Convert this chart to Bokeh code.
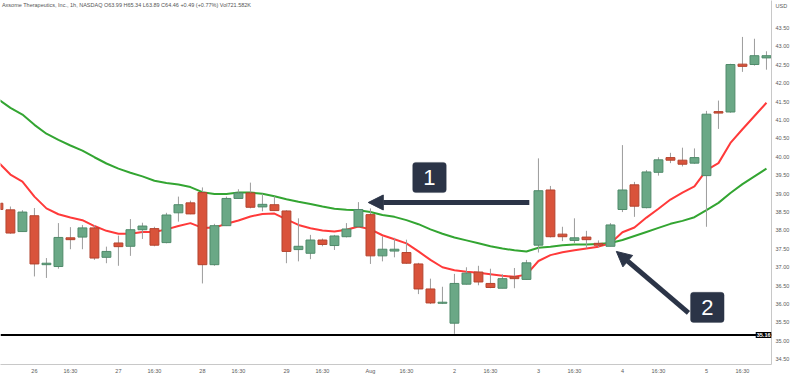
from bokeh.plotting import figure
from bokeh.models import (ColumnDataSource, FixedTicker, Span, Label, Arrow,
                          NormalHead, BoxAnnotation, Range1d, NumeralTickFormatter)
from bokeh.embed import file_html
from bokeh.resources import INLINE

# ---------------- data ----------------
opens = [38.74, 38.56, 37.97, 38.40, 37.07, 37.02, 37.80, 37.82, 38.07, 37.27,
         37.66, 37.57, 38.02, 38.05, 37.67, 38.48, 38.75, 39.03, 37.07, 38.13,
         38.87, 39.02, 38.64, 38.70, 38.53, 37.48, 37.38, 37.74, 37.59, 37.83,
         38.10, 38.43, 37.31, 37.44, 37.40, 37.09, 36.41, 36.02, 35.48, 36.54,
         36.87, 36.56, 36.43, 36.74, 36.67, 37.60, 39.10, 37.90, 37.73, 37.82,
         37.65, 37.57, 38.57, 39.24, 38.62, 39.58, 39.98, 39.91, 39.83, 39.49,
         41.23, 41.22, 42.52, 42.51, 42.69]
highs = [38.80, 38.65, 38.55, 38.61, 37.25, 38.20, 38.09, 38.15, 38.15, 37.56,
         37.86, 38.31, 38.21, 38.10, 38.48, 38.92, 38.81, 39.17, 38.18, 38.92,
         39.12, 39.30, 39.00, 38.93, 38.55, 38.33, 37.88, 37.78, 37.88, 38.20,
         38.77, 38.60, 37.84, 37.80, 37.75, 37.12, 36.69, 36.47, 36.82, 37.00,
         37.04, 36.96, 36.81, 36.98, 37.20, 39.96, 39.21, 38.10, 38.33, 37.99,
         37.73, 38.20, 40.32, 39.32, 39.64, 39.99, 40.11, 40.25, 40.23, 41.25,
         41.53, 42.53, 43.26, 43.21, 42.87]
lows = [38.52, 37.91, 37.96, 36.75, 36.71, 36.96, 37.49, 37.49, 37.20, 37.11,
        37.04, 37.31, 37.77, 37.57, 37.65, 38.24, 38.44, 36.56, 37.04, 38.12,
        38.87, 38.60, 38.52, 38.53, 37.11, 37.16, 37.22, 37.57, 37.47, 37.81,
        38.10, 37.09, 37.16, 37.27, 37.09, 36.27, 36.00, 36.00, 35.19, 36.53,
        36.51, 36.43, 36.43, 36.43, 36.66, 37.40, 37.81, 37.71, 37.66, 37.51,
        37.54, 37.57, 38.50, 38.37, 38.60, 39.49, 39.83, 39.74, 39.81, 38.10,
        40.76, 41.20, 42.31, 42.48, 42.37]
closes = [38.57, 37.93, 38.50, 37.09, 37.11, 37.81, 37.75, 38.07, 37.25, 37.43,
          37.56, 38.02, 38.12, 37.60, 38.42, 38.70, 38.45, 37.07, 38.13, 38.87,
          39.02, 38.63, 38.71, 38.54, 37.43, 37.57, 37.74, 37.62, 37.85, 38.04,
          38.57, 37.31, 37.49, 37.49, 37.11, 36.41, 36.03, 36.05, 36.56, 36.84,
          36.60, 36.45, 36.69, 36.69, 37.12, 39.08, 37.83, 37.83, 37.80, 37.75,
          37.60, 38.15, 39.10, 38.66, 39.59, 39.92, 39.91, 39.80, 39.98, 41.16,
          41.19, 42.51, 42.46, 42.75, 42.75]
ema_fast = [39.85, 39.52, 39.33, 38.92, 38.60, 38.44, 38.35, 38.28, 38.12, 37.99,
            37.91, 37.91, 37.96, 37.96, 38.03, 38.12, 38.20, 38.07, 38.08, 38.18,
            38.27, 38.38, 38.45, 38.46, 38.30, 38.15, 38.06, 38.00, 37.97, 38.02,
            38.11, 38.03, 37.87, 37.76, 37.65, 37.43, 37.20, 37.00, 36.92, 36.88,
            36.85, 36.81, 36.77, 36.74, 36.80, 37.17, 37.33, 37.41, 37.46, 37.51,
            37.56, 37.65, 37.95, 38.08, 38.35, 38.59, 38.84, 39.03, 39.20, 39.64,
            39.83, 40.38, 40.75, 41.11, 41.47]
ema_slow = [41.56, 41.33, 41.15, 40.87, 40.63, 40.46, 40.31, 40.17, 39.99, 39.82,
            39.68, 39.57, 39.47, 39.35, 39.29, 39.25, 39.18, 39.04, 38.99, 38.99,
            39.03, 39.03, 39.00, 38.93, 38.85, 38.78, 38.72, 38.65, 38.59, 38.56,
            38.55, 38.50, 38.42, 38.37, 38.28, 38.17, 38.03, 37.91, 37.81, 37.73,
            37.65, 37.57, 37.51, 37.46, 37.43, 37.53, 37.56, 37.60, 37.62, 37.62,
            37.63, 37.66, 37.74, 37.85, 37.96, 38.07, 38.18, 38.26, 38.36, 38.55,
            38.75, 39.02, 39.26, 39.47, 39.68]
bar_index = list(range(len(opens)))

time_tick_positions = [3, 6, 10, 13, 17, 20, 24, 27, 31, 34, 38, 41, 45, 48, 52, 55, 59, 62]
time_tick_labels = ["26", "16:30", "27", "16:30", "28", "16:30", "29", "16:30", "Aug",
                    "16:30", "2", "16:30", "3", "16:30", "4", "16:30", "5", "16:30"]
price_ticks = [34.5, 35.0, 35.5, 36.0, 36.5, 37.0, 37.5, 38.0, 38.5, 39.0,
               39.5, 40.0, 40.5, 41.0, 41.5, 42.0, 42.5, 43.0, 43.5]
price_tick_labels = ["34.50", "35.00", "35.50", "36.00", "36.50", "37.00", "37.50",
                     "38.00", "38.50", "39.00", "39.50", "40.00", "40.50", "41.00",
                     "41.50", "42.00", "42.50", "43.00", "43.50"]
currency_tick, currency_label = 44.09, "USD"
support_level = 35.16
support_label = "35.16"
header_text = ("Axsome Therapeutics, Inc., 1h, NASDAQ  O63.99  H65.34  L63.89  "
               "C64.46  +0.49 (+0.77%)  Vol721.582K")

# ---------------- styling ----------------
UP_FILL, UP_LINE = "#6aa886", "#4f8a6a"
DN_FILL, DN_LINE = "#d9533b", "#b4442f"
WICK = "#9c9c9c"
NAVY = "#2b3447"
FONT = "Liberation Sans"

is_up = [c >= o for o, c in zip(opens, closes)]
src = ColumnDataSource(dict(
    x=bar_index, open=opens, high=highs, low=lows, close=closes,
    top=[max(o, c) for o, c in zip(opens, closes)],
    bottom=[min(o, c) for o, c in zip(opens, closes)],
    fill=[UP_FILL if u else DN_FILL for u in is_up],
    line=[UP_LINE if u else DN_LINE for u in is_up],
))

X0, X1 = 0.173, 64.42
Y0, Y1 = 34.357, 44.25

p = figure(width=792, height=376, output_backend="svg", toolbar_location=None,
           x_range=Range1d(X0, X1), y_range=Range1d(Y0, Y1),
           y_axis_location="right", min_border_left=0, min_border_top=0,
           min_border_right=20, min_border_bottom=11)
p.outline_line_color = None
p.grid.visible = False
p.background_fill_color = "white"

# EMA lines
p.line(bar_index, ema_slow, line_color="#33a532", line_width=2)
p.line(bar_index, ema_fast, line_color="#ff3a3a", line_width=2)

# candles
p.segment(x0="x", y0="high", x1="x", y1="low", source=src, line_color=WICK, line_width=1)
p.vbar(x="x", top="top", bottom="bottom", width=0.74, source=src,
       fill_color="fill", line_color="line", line_width=1)

# support line
p.add_layout(Span(location=support_level, dimension="width", line_color="black", line_width=2))

# axes
xa = p.xaxis[0]
xa.ticker = FixedTicker(ticks=time_tick_positions)
xa.major_label_overrides = {pos: lab for pos, lab in zip(time_tick_positions, time_tick_labels)}
ya = p.yaxis[0]
ya.ticker = FixedTicker(ticks=price_ticks + [currency_tick])
ya.formatter = NumeralTickFormatter(format="0.00")
overrides = {pos: lab for pos, lab in zip(price_ticks, price_tick_labels)}
overrides[currency_tick] = currency_label
ya.major_label_overrides = overrides
for ax in (xa, ya):
    ax.axis_line_color = "#c8c8c8"
    ax.axis_line_width = 1
    ax.major_tick_line_color = None
    ax.minor_tick_line_color = None
    ax.major_tick_out = 0
    ax.major_tick_in = 0
    ax.major_label_text_font = FONT
    ax.major_label_text_font_size = "5.5px"
    ax.major_label_text_color = "#5a5a5a"
xa.major_label_standoff = 3
ya.major_label_standoff = 4

# header legend
p.add_layout(Label(x=X0 + 0.12, y=Y1 - 0.03, text=header_text, text_font=FONT,
                   text_font_size="5.5px", text_color="#555555", text_baseline="top"))
# price tag for support line, against the price scale
p.add_layout(Label(x=X1, y=support_level, text=support_label, text_font=FONT,
                   text_font_size="5.5px", text_font_style="bold", text_color="white",
                   text_align="right", text_baseline="middle",
                   background_fill_color="black", padding=1))

# annotation 1
p.add_layout(BoxAnnotation(left=34.52, right=37.32, bottom=39.03, top=39.85,
                           fill_color=NAVY, fill_alpha=1.0, line_color=NAVY, border_radius=3))
p.add_layout(Label(x=35.92, y=39.44, text="1", text_font=FONT, text_font_size="22px",
                   text_color="white", text_align="center", text_baseline="middle"))
p.add_layout(Arrow(end=NormalHead(size=15, fill_color=NAVY, line_color=NAVY),
                   x_start=44.24, y_start=38.76, x_end=30.82, y_end=38.76,
                   line_color=NAVY, line_width=5))

# annotation 2
p.add_layout(BoxAnnotation(left=57.67, right=60.47, bottom=35.50, top=36.32,
                           fill_color=NAVY, fill_alpha=1.0, line_color=NAVY, border_radius=3))
p.add_layout(Label(x=59.07, y=35.91, text="2", text_font=FONT, text_font_size="22px",
                   text_color="white", text_align="center", text_baseline="middle"))
p.add_layout(Arrow(end=NormalHead(size=15, fill_color=NAVY, line_color=NAVY),
                   x_start=57.50, y_start=35.76, x_end=51.49, y_end=37.43,
                   line_color=NAVY, line_width=5))

open("out.html", "w").write(file_html(p, INLINE))
